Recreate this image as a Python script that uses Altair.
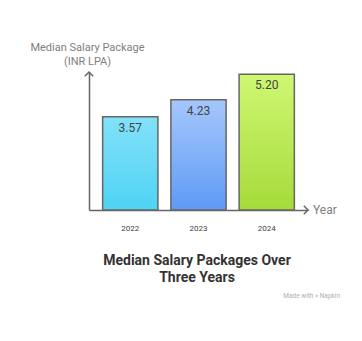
import altair as alt
import pandas as pd

years = ["2022", "2023", "2024"]
values = [3.57, 4.23, 5.20]
labels = ["3.57", "4.23", "5.20"]
grad_top = ["#82e1f8", "#a5c7fb", "#cff772"]
grad_bottom = ["#4fd3f5", "#5e9bf5", "#a5db3a"]

df = pd.DataFrame({"year": years, "value": values, "label": labels})

YMAX = 5.29
FONT = "Roboto"

x = alt.X("year:N", sort=years,
          scale=alt.Scale(paddingInner=0.19, paddingOuter=0.2),
          axis=alt.Axis(title=None, domainColor="#666666", domainWidth=1.5,
                        ticks=False, labelAngle=0, labelFont=FONT, labelFontSize=8,
                        labelColor="#444444", labelPadding=14))
y = alt.Y("value:Q", scale=alt.Scale(domain=[0, YMAX], nice=False, zero=True),
          axis=alt.Axis(title=["Median Salary Package", "(INR LPA)"], titleAngle=0,
                        titleAlign="center", titleBaseline="bottom", titleX=-2, titleY=-20,
                        titleFont=FONT, titleFontSize=11, titleFontWeight="normal",
                        titleColor="#808080", titleLineHeight=14,
                        domainColor="#666666", domainWidth=1.5, ticks=False,
                        labels=False, grid=False))

base = alt.Chart(df)
layers = []
for i, yr in enumerate(years):
    grad = alt.Gradient(gradient="linear", x1=0, y1=0, x2=0, y2=1,
                        stops=[alt.GradientStop(color=grad_top[i], offset=0),
                               alt.GradientStop(color=grad_bottom[i], offset=1)])
    layers.append(
        base.transform_filter(alt.datum.year == yr)
        .mark_bar(color=grad, stroke="#666666", strokeWidth=1.5)
        .encode(x=x, y=y)
    )

text = base.mark_text(font=FONT, fontSize=12, color="#444444", baseline="middle", dy=11).encode(
    x=alt.X("year:N", sort=years), y="value:Q", text="label:N")

arrow_df = pd.DataFrame({"k": [0]})
up_arrow = alt.Chart(arrow_df).mark_point(
    shape="M-1,1L0,0L1,1", filled=False, stroke="#666666", strokeWidth=1.5, size=70, opacity=1
).encode(x=alt.value(0), y=alt.datum(YMAX))
right_arrow = alt.Chart(arrow_df).mark_point(
    shape="M-1,-1L0,0L-1,1", filled=False, stroke="#666666", strokeWidth=1.5, size=70, opacity=1
).encode(x=alt.value(219), y=alt.datum(0))

year_lbl = alt.Chart(arrow_df).mark_text(
    text="Year", font=FONT, fontSize=12, color="#808080", align="left", baseline="middle"
).encode(x=alt.value(224), y=alt.datum(0))

title = alt.Chart(arrow_df).mark_text(
    text=["Median Salary Packages Over", "Three Years"], font=FONT, fontSize=14,
    fontWeight="bold", color="#333333", align="center", baseline="middle", lineHeight=17
).encode(x=alt.value(108), y=alt.value(189))

mark_lbl = alt.Chart(arrow_df).mark_text(
    text="Made with » Napkin", font=FONT, fontSize=6.5, color="#b0b0b0", align="right",
    baseline="middle"
).encode(x=alt.value(251), y=alt.value(224))

chart = alt.layer(*layers, text, up_arrow, right_arrow, year_lbl, title, mark_lbl).properties(
    width=219, height=138,
    autosize=alt.AutoSizeParams(type="none"),
    padding={"left": 89, "top": 72, "right": 54, "bottom": 131},
    background="white",
).configure_view(stroke=None)

chart.save("out.html", embed_options={"renderer": "svg", "actions": False})
